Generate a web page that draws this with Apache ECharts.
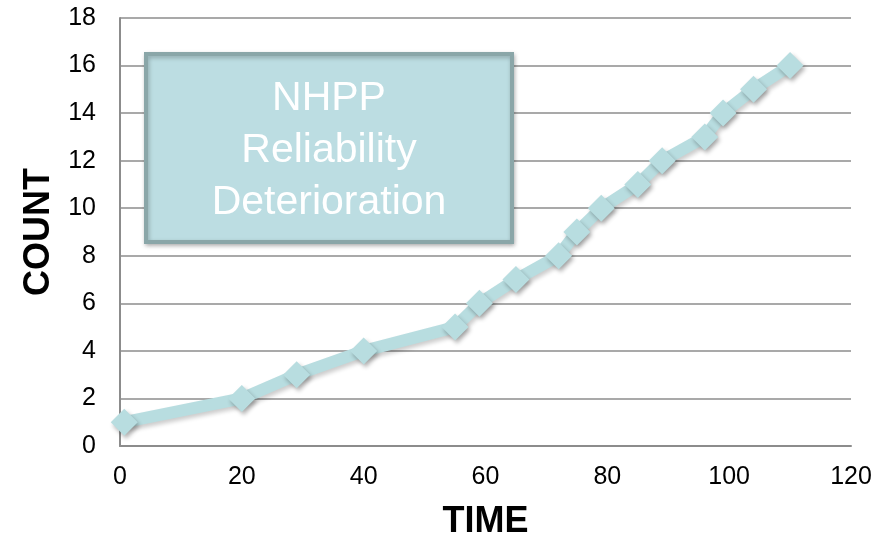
<!DOCTYPE html>
<html>
<head>
<meta charset="utf-8">
<script src="https://cdn.jsdelivr.net/npm/echarts@6/dist/echarts.min.js"></script>
<style>
  html, body { margin: 0; padding: 0; background: #ffffff; }
  #chart { width: 879px; height: 539px; }
</style>
</head>
<body>
<div id="chart"></div>
<script>
// Failure times and cumulative failure counts
const timeValues = [0.7, 20, 29, 40, 55, 59, 65, 72, 75, 79, 85, 89, 96, 99, 104, 110];
const countValues = [1, 2, 3, 4, 5, 6, 7, 8, 9, 10, 11, 12, 13, 14, 15, 16];
const boxLines = ['NHPP', 'Reliability', 'Deterioration'];
const xTitle = 'TIME';
const yTitle = 'COUNT';

const points = timeValues.map((t, i) => [t, countValues[i]]);

const chart = echarts.init(document.getElementById('chart'));
const gridColor = '#8c8c8c';
const baseFont = '"Liberation Sans", Arial, sans-serif';

// Tick labels drawn through a rich-text style so size and family are explicit
function tickLabel(margin) {
  return {
    margin: margin,
    formatter: v => '{t|' + v + '}',
    rich: {
      t: { fontSize: 25, lineHeight: 28, color: '#000000', fontFamily: baseFont }
    }
  };
}

// Callout box with three centred lines of white text
const boxGraphics = [{
  type: 'rect',
  x: 146, y: 54,
  shape: { width: 366, height: 188 },
  style: {
    fill: '#bcdde2', stroke: '#8aa6a8', lineWidth: 4,
    shadowBlur: 4, shadowOffsetX: 1, shadowOffsetY: 2, shadowColor: 'rgba(0,0,0,0.25)'
  },
  z: 10
}];
boxLines.forEach((line, i) => {
  boxGraphics.push({
    type: 'text',
    x: 329, y: 99 + i * 52,
    style: {
      text: line,
      fill: '#ffffff',
      font: '41px ' + baseFont,
      align: 'center', verticalAlign: 'middle'
    },
    z: 11
  });
});

chart.setOption({
  backgroundColor: '#ffffff',
  animation: false,
  textStyle: { fontFamily: baseFont },
  grid: { left: 120, right: 28, top: 18, bottom: 93, outerBoundsMode: 'none', containLabel: false },
  xAxis: {
    type: 'value',
    min: 0, max: 120, interval: 20,
    axisLine: { show: true, lineStyle: { color: gridColor, width: 2 } },
    axisTick: { show: false },
    splitLine: { show: false },
    axisLabel: tickLabel(17),
    name: xTitle,
    nameLocation: 'middle',
    nameGap: 58,
    nameTextStyle: { color: '#000', fontSize: 36, fontWeight: 'bold', fontFamily: baseFont }
  },
  yAxis: {
    type: 'value',
    min: 0, max: 18, interval: 2,
    axisLine: { show: true, lineStyle: { color: gridColor, width: 2 } },
    axisTick: { show: false },
    splitLine: { show: true, lineStyle: { color: gridColor, width: 1.5 } },
    axisLabel: tickLabel(24),
    name: yTitle,
    nameLocation: 'middle',
    nameGap: 62,
    nameTextStyle: { color: '#000', fontSize: 36, fontWeight: 'bold', fontFamily: baseFont }
  },
  graphic: boxGraphics,
  series: [{
    type: 'line',
    data: points,
    symbol: 'diamond',
    symbolSize: 27,
    lineStyle: {
      color: '#b8dde0', width: 12,
      shadowBlur: 4, shadowOffsetX: 2, shadowOffsetY: 3, shadowColor: 'rgba(0,0,0,0.2)'
    },
    itemStyle: {
      color: '#b8dde0', borderWidth: 0,
      shadowBlur: 4, shadowOffsetX: 2, shadowOffsetY: 3, shadowColor: 'rgba(0,0,0,0.3)'
    },
    z: 5
  }]
});
</script>
</body>
</html>
